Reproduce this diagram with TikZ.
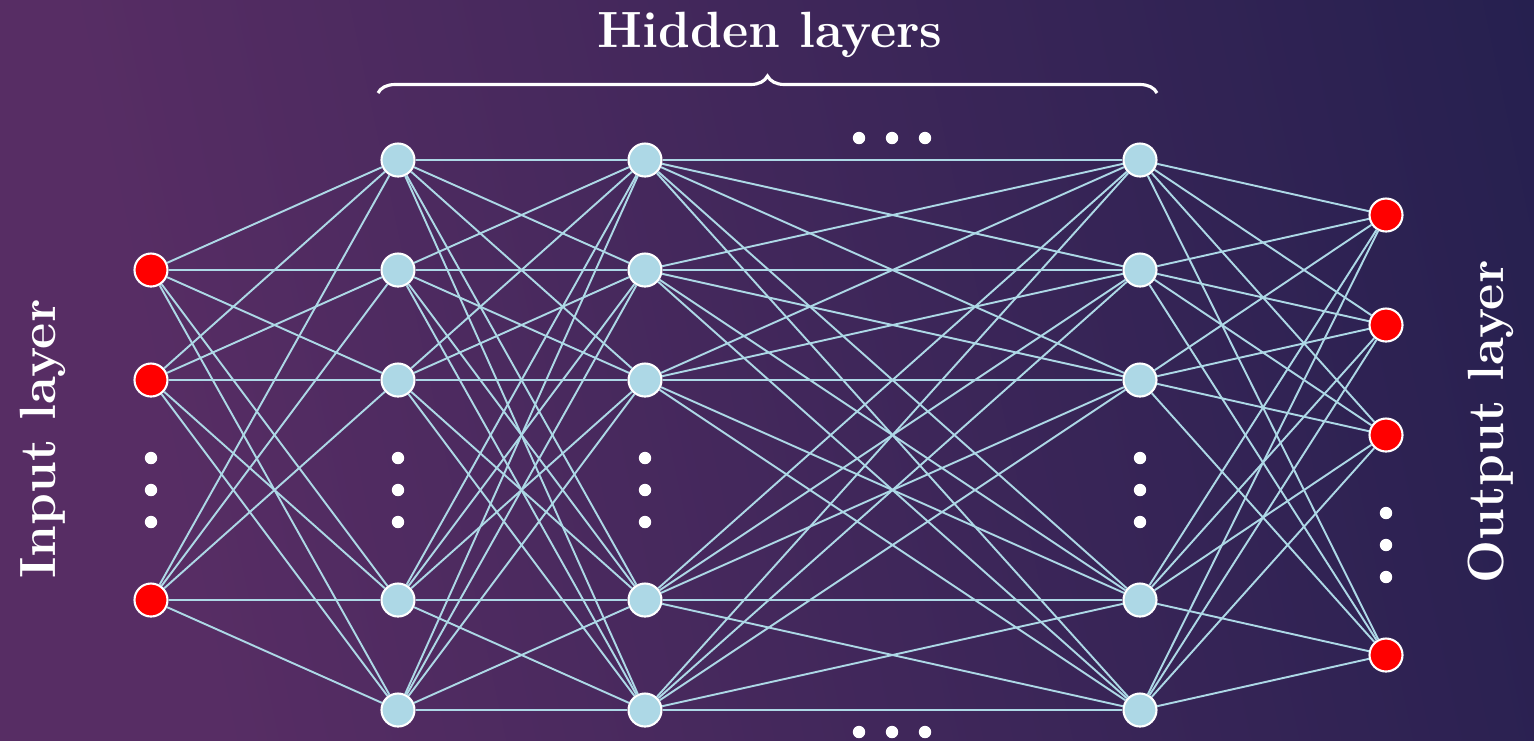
\documentclass[tikz,border=0pt]{standalone}
\usetikzlibrary{decorations.pathreplacing}
\definecolor{bgedge}{HTML}{4E2A5F}
\definecolor{bgpurple}{HTML}{572D64}
\definecolor{bgnavy}{HTML}{1E1E4C}
\definecolor{linkblue}{HTML}{ADD8E6}
\definecolor{neuronred}{HTML}{FF0000}
\pgfdeclarehorizontalshading{netbg}{100bp}{color(0bp)=(bgedge); color(15bp)=(bgpurple); color(28bp)=(bgpurple); color(88bp)=(bgnavy); color(100bp)=(bgnavy)}
\tikzset{
  neuron/.style={circle, minimum size=3.3mm, inner sep=0pt, draw=white, line width=0.6pt},
  hid/.style={neuron, fill=linkblue},
  io/.style={neuron, fill=neuronred},
  link/.style={draw=linkblue, line width=0.55pt},
  lbl/.style={text=white, font=\fontsize{14.5}{17}\selectfont\bfseries, inner sep=0pt},
  dotmark/.style={fill=white}
}
\begin{document}
\begin{tikzpicture}[x=0.1mm, y=-0.1mm]
  \useasboundingbox (0,0) rectangle (1534,740);
  % background
  \shade[shading=netbg, shading angle=12] (0,0) rectangle (1534,740);

  % neurons
  \foreach \y [count=\k] in {270,380,600}
    \node[io] (i\k) at (151,\y) {};
  \foreach \L/\x in {a/398, b/645, c/1140}
    \foreach \y [count=\k] in {160,270,380,600,710}
      \node[hid] (\L\k) at (\x,\y) {};
  \foreach \y [count=\k] in {215,325,435,655}
    \node[io] (o\k) at (1386,\y) {};

  % connections
  \foreach \s in {1,2,3}
    \foreach \t in {1,...,5}
      \draw[link] (i\s) -- (a\t);
  \foreach \s in {1,...,5}
    \foreach \t in {1,...,5} {
      \draw[link] (a\s) -- (b\t);
      \draw[link] (b\s) -- (c\t);
    }
  \foreach \s in {1,...,5}
    \foreach \t in {1,...,4}
      \draw[link] (c\s) -- (o\t);

  % ellipsis dots inside layers
  \foreach \x in {151,398,645,1140}
    \foreach \y in {458,490,522}
      \fill[dotmark] (\x,\y) circle (0.62mm);
  \foreach \y in {513,545,577}
    \fill[dotmark] (1386,\y) circle (0.62mm);
  % ellipsis dots between hidden layers
  \foreach \x in {859,892,925} {
    \fill[dotmark] (\x,138) circle (0.62mm);
    \fill[dotmark] (\x,732) circle (0.62mm);
  }

  % brace and labels
  \coordinate (bl) at (378,93);
  \coordinate (br) at (1157,93);
  \draw[white, line width=0.9pt, decorate, decoration={brace, amplitude=1.7mm}] (bl) -- (br);
  \node[lbl, anchor=base] (hl) at (770,47) {Hidden layers};
  \node[lbl, rotate=90, anchor=base] (inl) at (56,439) {Input layer};
  \node[lbl, rotate=90, anchor=base] (outl) at (1503,422) {Output layer};
\end{tikzpicture}
\end{document}
